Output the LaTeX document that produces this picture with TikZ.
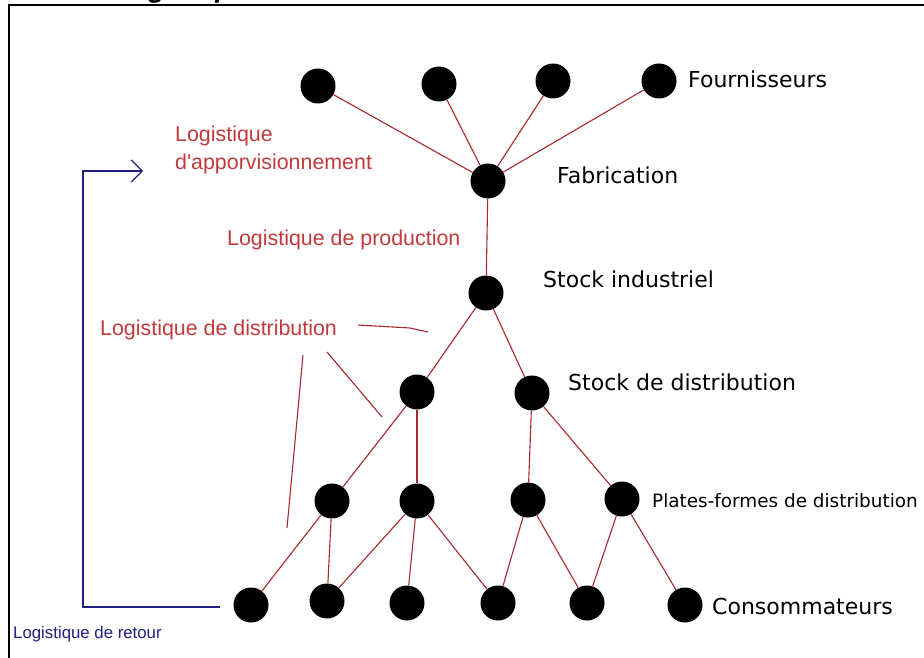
\documentclass[tikz,border=0pt]{standalone}
\usepackage{fontspec}
\setmainfont{Liberation Sans}
\newfontfamily\dejavu{DejaVu Sans}
\usetikzlibrary{arrows.meta}
\definecolor{lred}{HTML}{A8282C}
\definecolor{tred}{HTML}{C23A3C}
\definecolor{nblue}{HTML}{202080}
\tikzset{
  dot/.style={circle,fill=black,minimum size=35pt,inner sep=0pt},
  link/.style={draw=lred,line width=1.1pt},
  blk/.style={anchor=base west,inner sep=0pt,font=\dejavu\fontsize{22}{24}\selectfont},
  redtxt/.style={anchor=base west,inner sep=0pt,text=tred,font=\fontsize{21.4}{24}\selectfont},
  bluetxt/.style={anchor=base west,inner sep=0pt,text=nblue,font=\fontsize{16.8}{20}\selectfont},
  frameline/.style={draw=black,line width=1.5pt},
  retour/.style={draw=nblue,line width=1.4pt,-{Straight Barb[length=11pt,width=22pt,line width=1.2pt]}}
}
\begin{document}
\begin{tikzpicture}[x=1pt,y=-1pt]
\useasboundingbox (0,0) rectangle (924,658);
\fill[white] (0,0) rectangle (924,658);

% cropped title
\node[anchor=base east,inner sep=0pt,font=\bfseries\itshape\fontsize{28}{30}\selectfont] (title) at (256,-2) {La chaîne logistique};

% frame
\coordinate (fbl) at (9,662);
\coordinate (ftl) at (9,5);
\coordinate (ftr) at (930,5);
\draw[frameline] (fbl) -- (ftl) -- (ftr);

% suppliers
\node[dot] (f1) at (318,86) {};
\node[dot] (f2) at (439,84) {};
\node[dot] (f3) at (553,81) {};
\node[dot] (f4) at (659,81) {};
% manufacturing
\node[dot] (fab) at (488,181) {};
% industrial stock
\node[dot] (si) at (486,293) {};
% distribution stocks
\node[dot] (d1) at (417,392) {};
\node[dot] (d2) at (532,393) {};
% platforms
\node[dot] (p1) at (332,501) {};
\node[dot] (p2) at (417,501) {};
\node[dot] (p3) at (528,500) {};
\node[dot] (p4) at (622,499) {};
% consumers
\node[dot] (c1) at (251,605) {};
\node[dot] (c2) at (327,601) {};
\node[dot] (c3) at (407,603) {};
\node[dot] (c4) at (498,603) {};
\node[dot] (c5) at (587,603) {};
\node[dot] (c6) at (685,605) {};

% connectors
\draw[link] (f1) -- (fab);
\draw[link] (f2) -- (fab);
\draw[link] (f3) -- (fab);
\draw[link] (f4) -- (fab);
\draw[link] (fab) -- (si);
\draw[link] (si) -- (d1);
\draw[link] (si) -- (d2);
\draw[link] (d1) -- (p1);
\draw[link] (d1) -- (p2);
\draw[link] (d2) -- (p3);
\draw[link] (d2) -- (p4);
\draw[link] (p1) -- (c1);
\draw[link] (p1) -- (c2);
\draw[link] (p2) -- (c2);
\draw[link] (p2) -- (c3);
\draw[link] (p2) -- (c4);
\draw[link] (p3) -- (c4);
\draw[link] (p3) -- (c5);
\draw[link] (p4) -- (c5);
\draw[link] (p4) -- (c6);

% black labels
\node[blk] (tf) at (688,88) {Fournisseurs};
\node[blk] (tfab) at (557,183) {Fabrication};
\node[blk] (tsi) at (543,287) {Stock industriel};
\node[blk] (tsd) at (568,390) {Stock de distribution};
\node[blk,font=\dejavu\fontsize{18.4}{22}\selectfont] (tpf) at (652,507) {Plates-formes de distribution};
\node[blk] (tc) at (712,614) {Consommateurs};

% red labels
\node[redtxt] (la1) at (175,142) {Logistique};
\node[redtxt] (la2) at (175,170) {d\textquotesingle apporvisionnement};
\node[redtxt] (lp) at (227,245) {Logistique de production};
\node[redtxt] (ld) at (100,335) {Logistique de distribution};

% pointer lines of distribution label
\coordinate (q1a) at (358,325);
\coordinate (q1b) at (410,328);
\coordinate (q1c) at (428,332);
\draw[link] (q1a) -- (q1b) -- (q1c);
\coordinate (q2a) at (327,352);
\coordinate (q2b) at (382,417);
\draw[link] (q2a) -- (q2b);
\coordinate (q3a) at (303,355);
\coordinate (q3b) at (287,528);
\draw[link] (q3a) -- (q3b);

% return logistics
\coordinate (rs) at (220,607);
\coordinate (rc1) at (83,607);
\coordinate (rc2) at (83,171);
\coordinate (re) at (143,171);
\draw[retour] (rs) -- (rc1) -- (rc2) -- (re);
\node[bluetxt] (lr) at (13,638) {Logistique de retour};
\end{tikzpicture}
\end{document}
